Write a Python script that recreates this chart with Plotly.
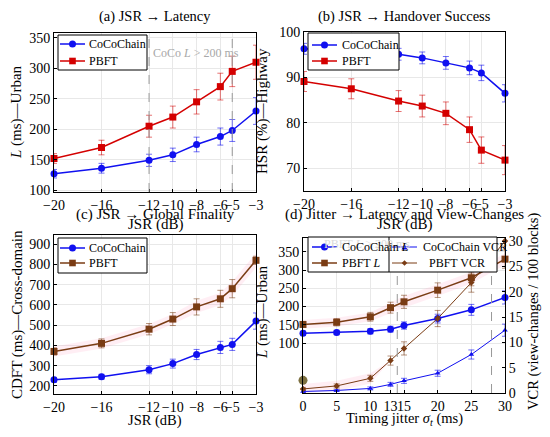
### Import packages into environment.
import plotly.graph_objects as go

# --------------------------------------------------------------------------- #
### Data.

jsr = [-20, -16, -12, -10, -8, -6, -5, -3]
jsr_ticks = [-20, -16, -12, -10, -8, -6, -5, -3]

# (a) JSR -> Latency (ms)
lat_coco = [127, 136, 149, 158, 175, 188, 198, 230]
lat_coco_err = [7, 8, 10, 11, 12, 14, 18, 22]
lat_pbft = [152, 170, 205, 220, 245, 270, 295, 310]
lat_pbft_err = [8, 12, 18, 18, 20, 22, 25, 28]
lat_marks = [-12, -5]

# (b) JSR -> Handover success (%)
hsr_coco = [96.3, 95.8, 95.1, 94.3, 93.2, 92.1, 91.0, 86.5]
hsr_coco_err = [1.2, 1.2, 1.3, 1.3, 1.4, 1.5, 1.7, 1.9]
hsr_pbft = [89.1, 87.5, 84.8, 83.7, 82.1, 78.5, 74.0, 71.8]
hsr_pbft_err = [2.2, 2.2, 2.3, 2.4, 2.5, 2.8, 2.9, 3.2]

# (c) JSR -> Global finality CDFT (ms)
cdft_coco = [230, 245, 280, 310, 355, 390, 405, 520]
cdft_coco_err = [12, 12, 20, 22, 25, 30, 30, 40]
cdft_pbft = [370, 410, 480, 530, 590, 630, 680, 820]
cdft_pbft_err = [18, 22, 28, 32, 40, 42, 45, 20]
cdft_pbft_band = [25, 25, 25, 25, 30, 30, 35, 35]

# (d) Jitter -> Latency and view-changes
jitter = [0, 5, 10, 13, 15, 20, 25, 30]
jitter_ticks = [0, 5, 10, 13, 15, 20, 25, 30]
jit_lat_coco = [127, 129, 132, 138, 148, 167, 191, 225]
jit_lat_coco_err = [6, 6, 7, 8, 10, 12, 15, 18]
jit_lat_pbft = [151, 157, 172, 197, 213, 245, 279, 330]
jit_lat_pbft_err = [8, 10, 12, 15, 18, 20, 22, 25]
jit_lat_pbft_band = [12, 12, 12, 14, 16, 16, 16, 16]
vcr_coco = [0.3, 0.5, 0.9, 1.7, 2.4, 3.9, 7.6, 12.4]
vcr_coco_err = [0.2, 0.2, 0.3, 0.4, 0.5, 0.6, 0.9, 1.2]
vcr_pbft = [0.8, 1.4, 2.9, 6.4, 8.8, 14.7, 21.8, 30.0]
vcr_pbft_err = [0.3, 0.4, 0.6, 0.9, 1.3, 1.6, 1.9, 1.0]
vcr_pbft_band = [1.0, 1.0, 1.0, 0, 0, 0, 0, 0]
vcr_stray_x = [0]
vcr_stray_y = [2.5]
jit_marks = [14, 28]

# --------------------------------------------------------------------------- #
### Colours, fonts, page geometry.

BLUE = '#1010f0'
RED = '#d40000'
BROWN = '#7a3c14'
PINK = 'rgba(255,120,170,0.13)'
FONT = 'Liberation Serif'

# the page body keeps its 8px margin, so the figure is drawn 16px smaller
OFF = 8
W, H = 550 - 2 * OFF, 437 - 2 * OFF


def fx(px):
    return (px - OFF) / W


def fy(py):
    return 1 - (py - OFF) / H


def err(arr, col):
    return dict(type='data', array=arr, color=col, thickness=1, width=3)


fig = go.Figure()

# --------------------------------------------------------------------------- #
### Pink halos first (drawn underneath).
fig.add_trace(go.Scatter(x=jsr, y=[v + b for v, b in zip(cdft_pbft, cdft_pbft_band)],
                         mode='lines', line=dict(width=0), hoverinfo='skip',
                         xaxis='x3', yaxis='y3'))
fig.add_trace(go.Scatter(x=jsr, y=[v - b for v, b in zip(cdft_pbft, cdft_pbft_band)],
                         mode='lines', line=dict(width=0), fill='tonexty', fillcolor=PINK,
                         hoverinfo='skip', xaxis='x3', yaxis='y3'))
fig.add_trace(go.Scatter(x=jitter, y=[v + b for v, b in zip(jit_lat_pbft, jit_lat_pbft_band)],
                         mode='lines', line=dict(width=0), hoverinfo='skip',
                         xaxis='x4', yaxis='y4'))
fig.add_trace(go.Scatter(x=jitter, y=[v - b for v, b in zip(jit_lat_pbft, jit_lat_pbft_band)],
                         mode='lines', line=dict(width=0), fill='tonexty', fillcolor=PINK,
                         hoverinfo='skip', xaxis='x4', yaxis='y4'))
fig.add_trace(go.Scatter(x=jitter, y=[v + b for v, b in zip(vcr_pbft, vcr_pbft_band)],
                         mode='lines', line=dict(width=0), hoverinfo='skip',
                         xaxis='x4', yaxis='y5'))
fig.add_trace(go.Scatter(x=jitter, y=[max(v - b, 0) for v, b in zip(vcr_pbft, vcr_pbft_band)],
                         mode='lines', line=dict(width=0), fill='tonexty', fillcolor=PINK,
                         hoverinfo='skip', xaxis='x4', yaxis='y5'))


def series(x, y, e, name, col, ecol, sym, size, lw, xa, ya):
    fig.add_trace(go.Scatter(x=x, y=y, name=name, mode='lines+markers',
                             line=dict(color=col, width=lw), marker=dict(symbol=sym, size=size),
                             error_y=err(e, ecol), cliponaxis=False, xaxis=xa, yaxis=ya))


EB = 'rgba(16,16,240,0.6)'
ER = 'rgba(212,0,0,0.55)'
EBR = 'rgba(122,60,20,0.55)'

# (a) Latency
series(jsr, lat_coco, lat_coco_err, 'CoCoChain', BLUE, EB, 'circle', 7, 1.5, 'x', 'y')
series(jsr, lat_pbft, lat_pbft_err, 'PBFT', RED, ER, 'square', 7, 1.5, 'x', 'y')
# (b) Handover success
series(jsr, hsr_coco, hsr_coco_err, 'CoCoChain', BLUE, EB, 'circle', 7, 1.5, 'x2', 'y2')
series(jsr, hsr_pbft, hsr_pbft_err, 'PBFT', RED, ER, 'square', 7, 1.5, 'x2', 'y2')
# (c) Global finality
series(jsr, cdft_coco, cdft_coco_err, 'CoCoChain', BLUE, EB, 'circle', 7, 1.5, 'x3', 'y3')
series(jsr, cdft_pbft, cdft_pbft_err, 'PBFT', BROWN, EBR, 'square', 7, 1.5, 'x3', 'y3')
# (d) Jitter
series(jitter, jit_lat_coco, jit_lat_coco_err, 'CoCoChain L', BLUE, EB, 'circle', 7, 1.5, 'x4', 'y4')
series(jitter, vcr_coco, vcr_coco_err, 'CoCoChain VCR', BLUE, EB, 'triangle-up', 5, 1, 'x4', 'y5')
series(jitter, jit_lat_pbft, jit_lat_pbft_err, 'PBFT L', BROWN, EBR, 'square', 7, 1.5, 'x4', 'y4')
series(jitter, vcr_pbft, vcr_pbft_err, 'PBFT VCR', BROWN, EBR, 'diamond', 5, 1, 'x4', 'y5')
fig.add_trace(go.Scatter(x=vcr_stray_x, y=vcr_stray_y, mode='markers', cliponaxis=False,
                         marker=dict(symbol='circle', size=9, color='#7d7040'),
                         xaxis='x4', yaxis='y5'))

# --------------------------------------------------------------------------- #
### Axes.
axis_common = dict(showline=True, linecolor='black', linewidth=1, mirror=True,
                   ticks='inside', ticklen=3, tickcolor='black', tickangle=0,
                   automargin=False, showgrid=True, gridcolor='#e8e8e8', zeroline=False,
                   tickfont=dict(family=FONT, size=14, color='black'))


def px_x(a, b):
    return [fx(a), fx(b)]


def px_y(top, bottom):
    return [fy(bottom), fy(top)]


fig.update_layout(
    template='none', showlegend=False,
    xaxis=dict(axis_common, domain=px_x(54, 256), range=[-20, -3], tickvals=jsr_ticks, anchor='y'),
    yaxis=dict(axis_common, domain=px_y(33, 192), range=[97, 358], tickvals=[100, 150, 200, 250, 300, 350], anchor='x'),
    xaxis2=dict(axis_common, domain=px_x(304, 505), range=[-20, -3], tickvals=jsr_ticks, anchor='y2'),
    yaxis2=dict(axis_common, domain=px_y(32, 191), range=[65, 100], tickvals=[70, 80, 90, 100], anchor='x2'),
    xaxis3=dict(axis_common, domain=px_x(54, 256), range=[-20, -3], tickvals=jsr_ticks, anchor='y3'),
    yaxis3=dict(axis_common, domain=px_y(235, 394), range=[160, 945],
                tickvals=[200, 300, 400, 500, 600, 700, 800, 900], anchor='x3'),
    xaxis4=dict(axis_common, domain=px_x(303, 505), range=[0, 30], tickvals=jitter_ticks, anchor='y4'),
    yaxis4=dict(axis_common, domain=px_y(238, 393), range=[-37, 388], mirror=False,
                tickvals=[100, 150, 200, 250, 300, 350], anchor='x4'),
    yaxis5=dict(axis_common, domain=px_y(238, 393), range=[0, 30.6], mirror=False, showgrid=False,
                overlaying='y4', side='right', tickvals=[0, 5, 10, 15, 20, 25, 30], anchor='x4'),
)

# --------------------------------------------------------------------------- #
### Dashed threshold lines.
shapes = []
for xv in lat_marks:
    shapes.append(dict(type='line', xref='x', yref='y domain', x0=xv, x1=xv, y0=0, y1=1,
                       line=dict(color='#999999', width=1, dash='dash')))
for xv in jit_marks:
    shapes.append(dict(type='line', xref='x4', yref='y4 domain', x0=xv, x1=xv, y0=0, y1=1,
                       line=dict(color='#999999', width=1, dash='dash')))

# --------------------------------------------------------------------------- #
### Legend boxes, drawn in pgfplots style (short sample, marker in the middle).


def box(x0, y0, x1, y1):
    return dict(type='rect', xref='paper', yref='paper', x0=fx(x0), x1=fx(x1),
                y0=fy(y1), y1=fy(y0), fillcolor='white', line=dict(color='black', width=1))


def sample(x0, x1, y, col, wid):
    return dict(type='line', xref='paper', yref='paper', x0=fx(x0), x1=fx(x1),
                y0=fy(y), y1=fy(y), line=dict(color=col, width=wid))


def dot(cx, cy, r, col, kind):
    if kind == 'circle':
        return dict(type='circle', xref='paper', yref='paper', x0=fx(cx - r), x1=fx(cx + r),
                    y0=fy(cy + r), y1=fy(cy - r), fillcolor=col, line=dict(width=0))
    if kind == 'square':
        return dict(type='rect', xref='paper', yref='paper', x0=fx(cx - r), x1=fx(cx + r),
                    y0=fy(cy + r), y1=fy(cy - r), fillcolor=col, line=dict(width=0))
    if kind == 'triangle':
        pts = [(cx, cy - r), (cx + r, cy + r * 0.8), (cx - r, cy + r * 0.8)]
    else:
        pts = [(cx, cy - r), (cx + r, cy), (cx, cy + r), (cx - r, cy)]
    path = 'M ' + ' L '.join('%f %f' % (fx(a), fy(b)) for a, b in pts) + ' Z'
    return dict(type='path', xref='paper', yref='paper', path=path, fillcolor=col,
                line=dict(width=0))


def entry(x0, y, col, wid, kind, r):
    return [sample(x0, x0 + 25, y, col, wid), dot(x0 + 12.5, y, r, col, kind)]


# (a)
shapes.append(box(58, 35, 147, 70))
shapes += entry(60, 44, BLUE, 1.5, 'circle', 3.5) + entry(60, 61, RED, 1.5, 'square', 3.3)
# (b)
shapes.append(box(308, 33, 399, 70))
shapes += entry(312, 45, BLUE, 1.5, 'circle', 3.5) + entry(312, 61, RED, 1.5, 'square', 3.3)
# (c)
shapes.append(box(58, 238, 147, 273))
shapes += entry(60, 248, BLUE, 1.5, 'circle', 3.5) + entry(60, 263, BROWN, 1.5, 'square', 3.3)
# (d), two columns with a divider
shapes.append(box(308, 237, 497, 272))
shapes.append(dict(type='line', xref='paper', yref='paper', x0=fx(389), x1=fx(389),
                   y0=fy(272), y1=fy(237), line=dict(color='black', width=1)))
shapes += entry(312, 247, BLUE, 1.5, 'circle', 3.5) + entry(312, 263, BROWN, 1.5, 'square', 3.3)
shapes += entry(392, 247, BLUE, 1, 'triangle', 3) + entry(392, 263, BROWN, 1, 'diamond', 2.8)
fig.update_layout(shapes=shapes)

# --------------------------------------------------------------------------- #
### Titles and labels as annotations.


def note(text, x, y, size=15, angle=0, color='black', xanchor='center'):
    return dict(text=text, xref='paper', yref='paper', x=fx(x), y=fy(y),
                xanchor=xanchor, yanchor='middle', showarrow=False, textangle=angle,
                font=dict(family=FONT, size=size, color=color))


annotations = [
    note('CoCo <i>L</i> > 200 ms', 151, 53, size=12, color='#a8a8a8', xanchor='left'),
    note('PBFT <i>L</i> > 200 ms', 322, 244, size=12, color='#dadada', xanchor='left'),
    note('CoCoChain', 87, 44, size=12, xanchor='left'),
    note('PBFT', 87, 61, size=12, xanchor='left'),
    note('CoCoChain', 340, 45, size=12, xanchor='left'),
    note('PBFT', 340, 61, size=12, xanchor='left'),
    note('CoCoChain', 87, 248, size=12, xanchor='left'),
    note('PBFT', 87, 263, size=12, xanchor='left'),
    note('CoCoChain <i>L</i>', 340, 247, size=12, xanchor='left'),
    note('PBFT <i>L</i>', 340, 263, size=12, xanchor='left'),
    note('CoCoChain VCR', 421, 247, size=12, xanchor='left'),
    note('PBFT VCR', 457, 263, size=12),
    note('(a) JSR \u2192 Latency', 155, 16.5, size=14.5),
    note('(b) JSR \u2192 Handover Success', 404, 16.5, size=14.5),
    note('JSR (dB)', 155, 224),
    note('JSR (dB)', 404, 224),
    note('(c) JSR \u2192 Global Finality', 155, 214),
    note('(d) Jitter \u2192 Latency and View-Changes', 404, 214),
    note('JSR (dB)', 155, 420, size=14.5),
    note('Timing jitter <i>\u03c3<sub>t</sub></i> (ms)', 404, 419, size=14.5),
    note('<i>L</i> (ms)\u2014Urban', 17, 112, angle=-90),
    note('HSR (%)\u2014Highway', 262, 111, angle=-90),
    note('CDFT (ms)\u2014Cross-domain', 17, 315, angle=-90),
    note('<i>L</i> (ms)\u2014Urban', 262, 312, angle=-90),
    note('VCR (view-changes / 100 blocks)', 533, 312, size=14.5, angle=-90),
]
fig.update_layout(annotations=annotations)

fig.update_layout(width=W, height=H, margin=dict(l=0, r=0, t=0, b=0, autoexpand=False),
                  plot_bgcolor='white', paper_bgcolor='white',
                  font=dict(family=FONT, color='black'))

# Plot the data in html format.
fig.write_html('out.html')
